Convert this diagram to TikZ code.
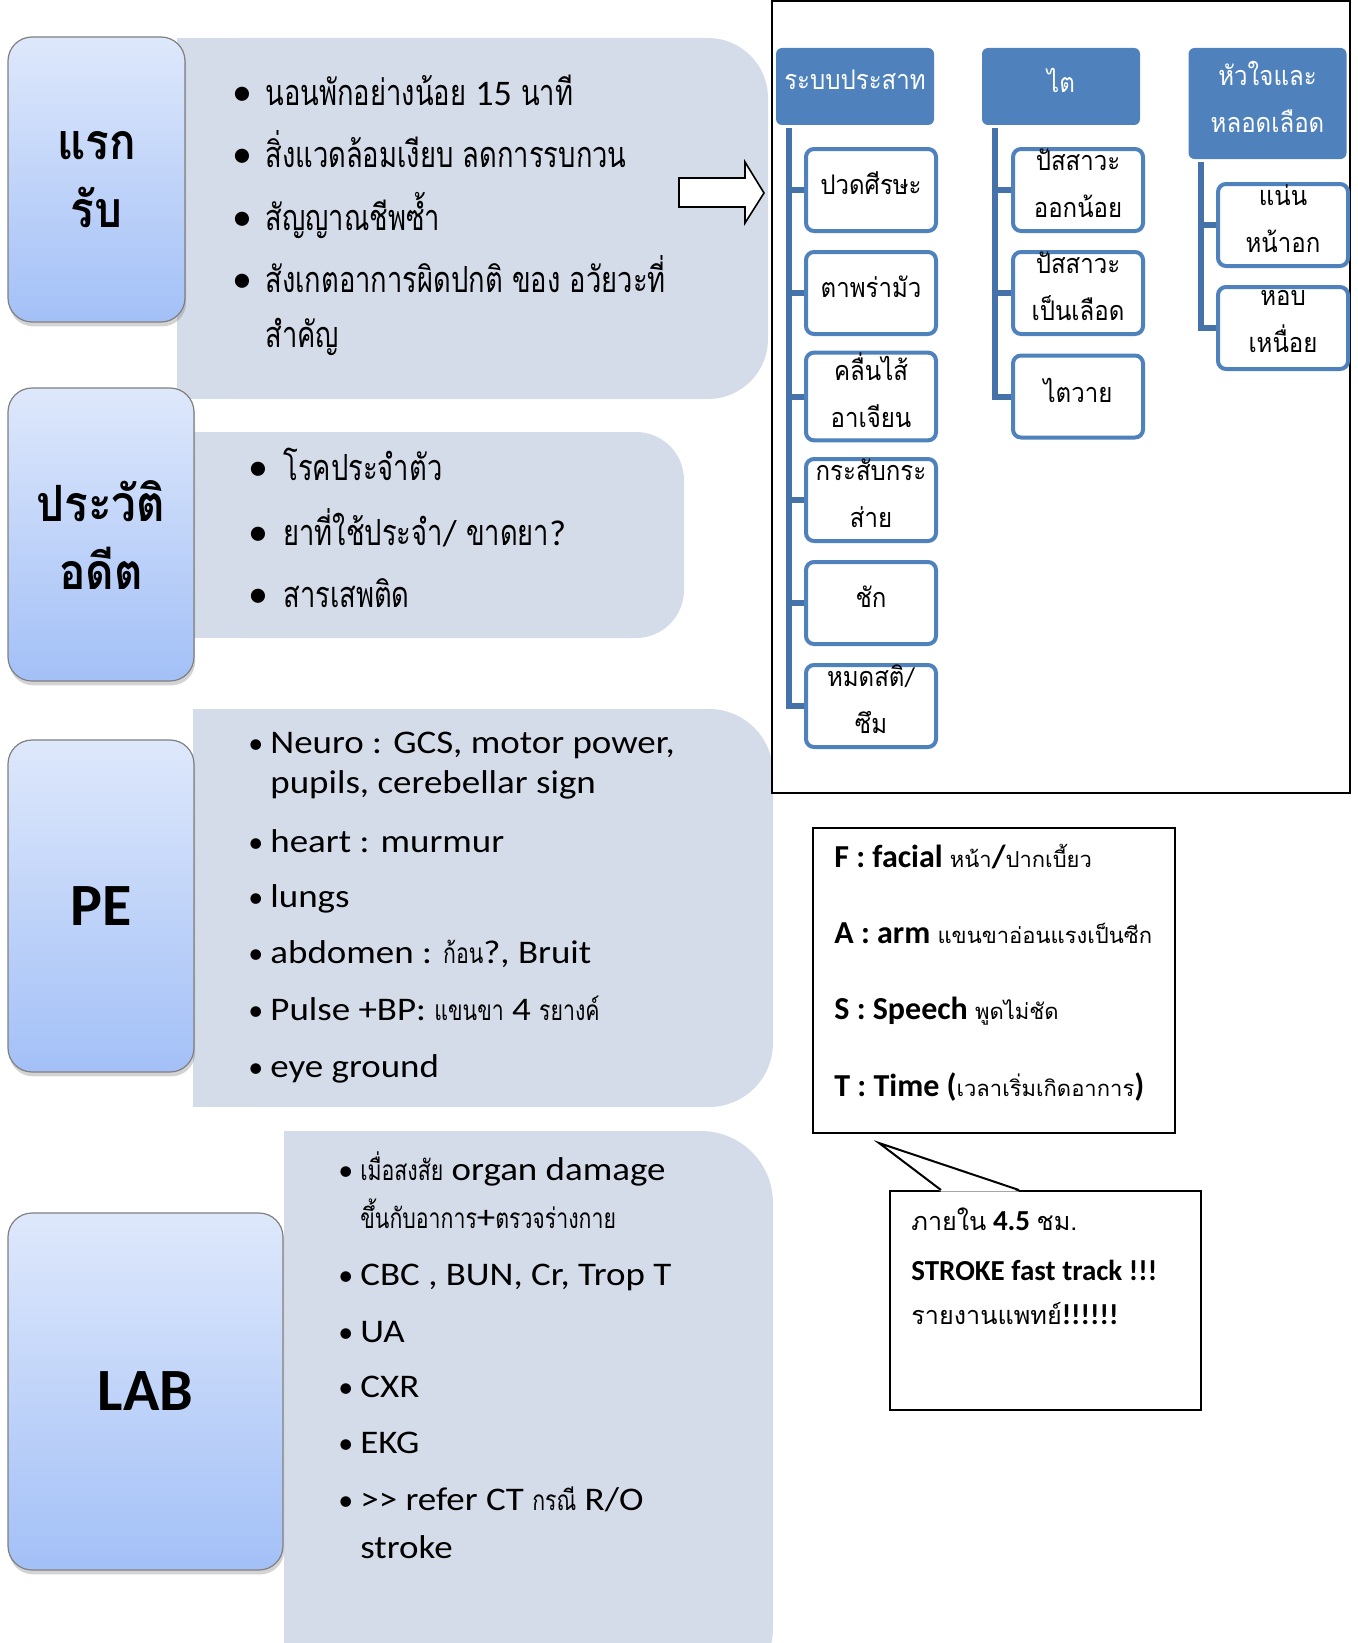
\documentclass[tikz,border=0pt]{standalone}
\usepackage{fontspec}
\setmainfont{Carlito}
\newfontfamily\thaifont[Script=Thai]{Loma}
\newfontfamily\thaicond[Script=Thai,FakeStretch=0.76]{Loma}
\newfontfamily\thaitree[Script=Thai,FakeStretch=0.89]{Loma}
\newfontfamily\thaibig[Script=Thai,FakeStretch=0.88]{Loma}
\newfontfamily\widefont[FakeStretch=1.12]{Carlito}
\usetikzlibrary{shadows}
\definecolor{panelgray}{HTML}{D5DCE9}
\definecolor{labeltop}{HTML}{DEE8FB}
\definecolor{labelbottom}{HTML}{A3C0F7}
\definecolor{labeledge}{HTML}{808080}
\definecolor{treeblue}{HTML}{4F81BD}
\definecolor{treeline}{HTML}{4672AA}
\newcommand{\labelthai}{\thaibig\bfseries\fontsize{25}{34}\selectfont}
\newcommand{\labellatin}{\bfseries\fontsize{30}{34}\selectfont}
\newcommand{\listthai}{\thaicond\fontsize{18}{20}\selectfont}
\newcommand{\listlatin}{\widefont\fontsize{16.5}{20}\selectfont}
\newcommand{\smallthai}{\thaicond\fontsize{14}{16}\selectfont}
\newcommand{\treethai}{\thaitree\fontsize{13.5}{23.5}\selectfont}
\newcommand{\fastfont}{\bfseries\fontsize{16}{19}\selectfont}
\newcommand{\fastthai}{\thaifont\mdseries\fontsize{11}{19}\selectfont}
\newcommand{\callfont}{\bfseries\fontsize{14.5}{17}\selectfont}
\newcommand{\callthai}{\thaifont\mdseries\fontsize{12.6}{17}\selectfont}
\tikzset{
  labelbox/.style={draw=labeledge,line width=0.6pt,rounded corners=12pt,top color=labeltop,bottom color=labelbottom,
    drop shadow={shadow xshift=0.6pt,shadow yshift=-2.2pt,opacity=0.35},inner sep=0pt,align=center},
  listline/.style={anchor=base west,inner sep=0pt},
  bigdot/.style={anchor=base west,inner sep=0pt,font=\rmfamily\fontsize{20}{20}\selectfont},
  smalldot/.style={anchor=base west,inner sep=0pt,font=\rmfamily\fontsize{15}{20}\selectfont},
  treehead/.style={fill=treeblue,rounded corners=3pt,minimum width=79pt,minimum height=38.5pt,inner sep=0pt,
    align=center,text=white,font=\treethai,text depth=6.5pt},
  treeleaf/.style={draw=treeblue,line width=2pt,fill=white,rounded corners=4pt,minimum width=65pt,
    minimum height=41pt,inner sep=0pt,align=center,font=\treethai,text depth=6.5pt},
  treelink/.style={draw=treeline,line width=3pt}
}

\begin{document}
\begin{tikzpicture}[x=0.5pt,y=-0.5pt]
\useasboundingbox (0,0) rectangle (1357,1643);
% grey panels behind the labels
\fill[panelgray,rounded corners=30pt] (177,38) rectangle (768,399);
\fill[panelgray] (177,38) rectangle (700,399);
\fill[panelgray,rounded corners=24pt] (194,432) rectangle (684,638);
\fill[panelgray] (194,432) rectangle (630,638);
\fill[panelgray,rounded corners=32pt] (193,709) rectangle (773,1107);
\fill[panelgray] (193,709) rectangle (700,1107);
\fill[panelgray,rounded corners=36pt] (284,1131) rectangle (773,1700);
\fill[panelgray] (284,1131) rectangle (700,1700);

% labels on the left
\node[labelbox,minimum width=88.5pt,minimum height=142.5pt,font=\labelthai] (first) at (96.5,179.5) {แรก\\รับ};
\node[labelbox,minimum width=93pt,minimum height=146.5pt,font=\labelthai] (history) at (101,534.5) {ประวัติ\\อดีต};
\node[labelbox,minimum width=93pt,minimum height=166pt,font=\labellatin] (pe) at (101,906) {PE};
\node[labelbox,minimum width=137.5pt,minimum height=178.5pt,font=\labellatin] (lab) at (145.5,1391.5) {LAB};

% list texts
\foreach \y/\t [count=\i] in {105/{นอนพักอย่างน้อย {\rmfamily 15} นาที},168/{สิ่งแวดล้อมเงียบ ลดการรบกวน},230/{สัญญาณชีพซ้ำ},292/{สังเกตอาการผิดปกติ ของ อวัยวะที่},347/{สำคัญ}}
  \node[listline,font=\listthai] (first-\i) at (265,\y) {\t};
\foreach \y [count=\i] in {105,168,230,292}
  \node[bigdot] (first-dot\i) at (232,\y) {\textbullet};

\foreach \y/\t [count=\i] in {480/{โรคประจำตัว},545/{ยาที่ใช้ประจำ{\rmfamily /} ขาดยา{\rmfamily ?}},607/{สารเสพติด}}
  \node[listline,font=\listthai] (history-\i) at (283,\y) {\t};
\foreach \y [count=\i] in {480,545,607}
  \node[bigdot] (history-dot\i) at (248,\y) {\textbullet};

\foreach \y/\t [count=\i] in {753/{Neuro : GCS, motor power,},793/{pupils, cerebellar sign},852/{heart : murmur},907/{lungs},963/{abdomen : {\smallthai ก้อน}?, Bruit},1020/{Pulse +BP: {\smallthai แขนขา} 4 {\smallthai รยางค์}},1077/{eye ground}}
  \node[listline,font=\listlatin] (pe-\i) at (270,\y) {\t};
\foreach \y [count=\i] in {753,852,907,963,1020,1077}
  \node[smalldot] (pe-dot\i) at (248,\y) {\textbullet};

\foreach \y/\t [count=\i] in {1180/{{\smallthai เมื่อสงสัย} organ damage},1228/{{\smallthai ขึ้นกับอาการ}+{\smallthai ตรวจร่างกาย}},1285/{CBC , BUN, Cr, Trop T},1342/{UA},1397/{CXR},1453/{EKG},1510/{{>}{>} refer CT {\smallthai กรณี} R/O},1558/{stroke}}
  \node[listline,font=\listlatin] (lab-\i) at (360,\y) {\t};
\foreach \y [count=\i] in {1180,1285,1342,1397,1453,1510}
  \node[smalldot] (lab-dot\i) at (338,\y) {\textbullet};

% block arrow to the organ tree
\draw[line width=0.8pt,fill=white] (679,178) -- (745,178) -- (745,162) -- (764,193) -- (745,223) -- (745,207) -- (679,207) -- cycle;

% organ tree
\node[draw,line width=1pt,minimum width=289pt,minimum height=396pt,inner sep=0pt] (organs) at (1061,397) {};
\node[treehead] (nerve) at (855,86.5) {ระบบประสาท};
\node[treehead] (kidney) at (1061,86.5) {ไต};
\node[treehead,minimum height=55.5pt] (heart) at (1267.5,103.5) {หัวใจและ\\หลอดเลือด};
\foreach \y/\t [count=\i] in {190/{ปวดศีรษะ},293/{ตาพร่ามัว},396.5/{คลื่นไส้\\อาเจียน},500/{กระสับกระ\\ส่าย},603/{ชัก},706/{หมดสติ{\rmfamily /}\\ซึม}}
  \node[treeleaf] (nerve-\i) at (871,\y) {\t};
\foreach \y/\t [count=\i] in {190/{ปัสสาวะ\\ออกน้อย},293/{ปัสสาวะ\\เป็นเลือด},396.5/{ไตวาย}}
  \node[treeleaf] (kidney-\i) at (1078,\y) {\t};
\foreach \y/\t [count=\i] in {225/{แน่น\\หน้าอก},328/{หอบ\\เหนื่อย}}
  \node[treeleaf] (heart-\i) at (1283,\y) {\t};
\foreach \i in {1,...,6}
  \draw[treelink] ([xshift=6.5pt,yshift=-1.5pt]nerve.south west) |- (nerve-\i.west);
\foreach \i in {1,...,3}
  \draw[treelink] ([xshift=6.5pt,yshift=-1.5pt]kidney.south west) |- (kidney-\i.west);
\foreach \i in {1,2}
  \draw[treelink] ([xshift=6.5pt,yshift=-1.5pt]heart.south west) |- (heart-\i.west);

% FAST box
\node[draw,line width=1pt,fill=white,minimum width=181pt,minimum height=152.5pt,inner sep=0pt] (fast) at (994,980.5) {};
\foreach \y/\t [count=\i] in {867/{F : facial {\fastthai หน้า}/{\fastthai ปากเบี้ยว}},943/{A : arm {\fastthai แขนขาอ่อนแรงเป็นซีก}},1019/{S : Speech {\fastthai พูดไม่ชัด}},1096/{T : Time ({\fastthai เวลาเริ่มเกิดอาการ})}}
  \node[listline,font=\fastfont] (fast-\i) at (834,\y) {\t};

% callout
\node[draw,line width=1pt,fill=white,minimum width=155.5pt,minimum height=109.5pt,inner sep=0pt] (call) at (1045.5,1300.5) {};
\coordinate (calltip) at (879,1143);
\fill[white] ([xshift=26pt,yshift=-0.8pt]call.north west) -- (calltip) -- ([xshift=65pt,yshift=-0.8pt]call.north west) -- cycle;
\draw[line width=1pt] ([xshift=26pt]call.north west) -- (calltip) -- ([xshift=65pt]call.north west);
\foreach \y/\t [count=\i] in {1230/{{\callthai ภายใน} 4.5 {\callthai ชม.}},1280/{STROKE fast track !!!},1324/{{\callthai รายงานแพทย์}!!!!!!}}
  \node[listline,font=\callfont] (call-\i) at (911,\y) {\t};
\end{tikzpicture}
\end{document}
